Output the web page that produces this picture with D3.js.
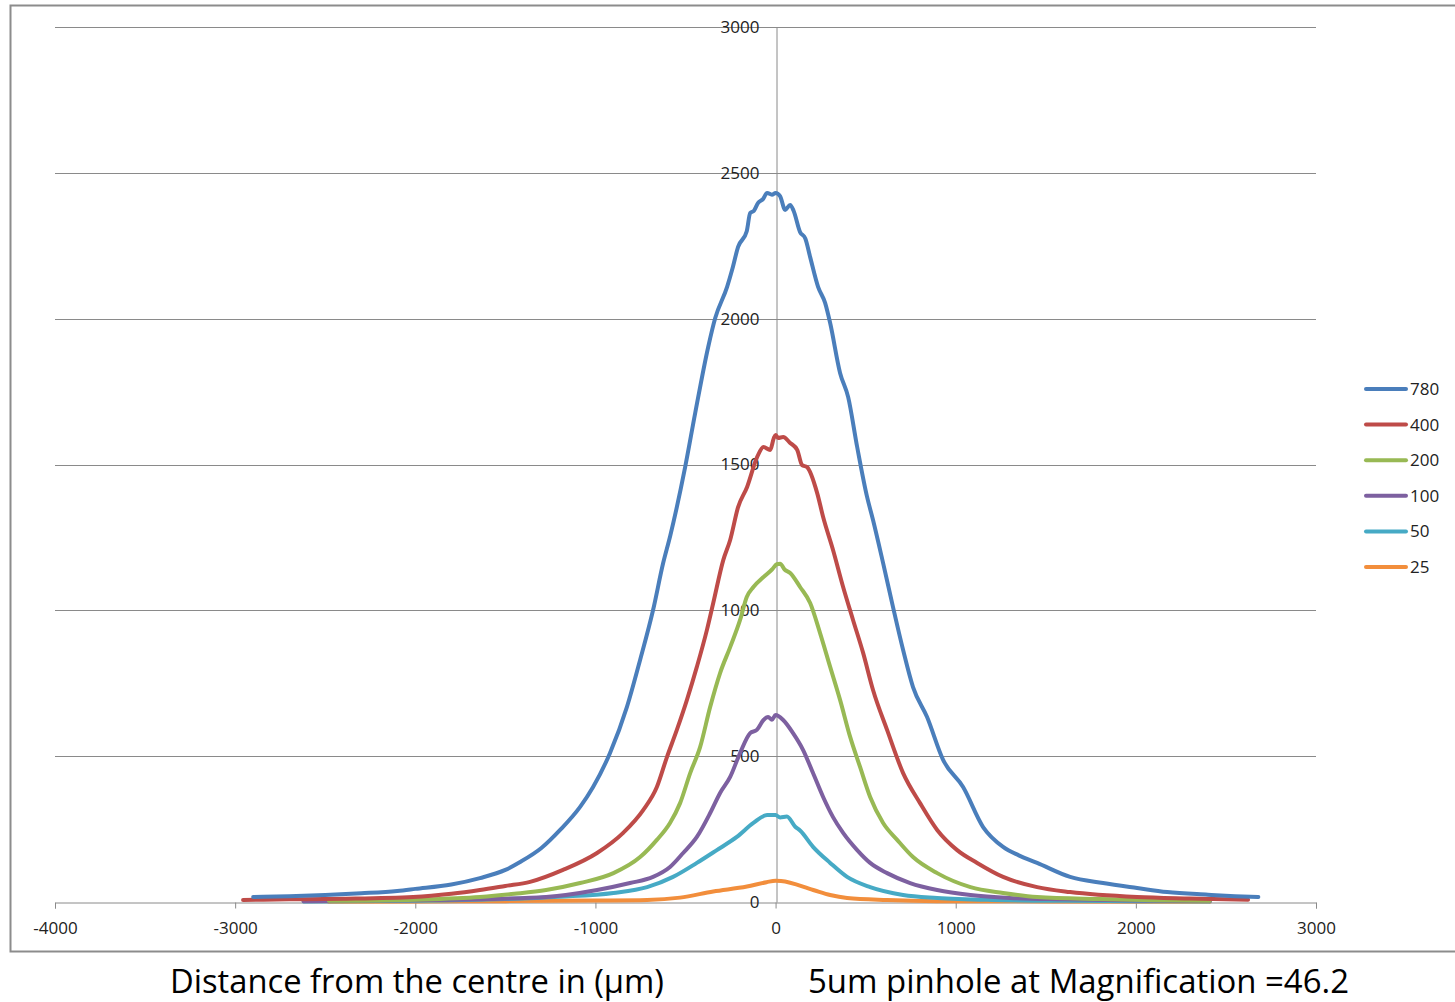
<!DOCTYPE html>
<html>
<head>
<meta charset="utf-8">
<script src="https://cdn.jsdelivr.net/npm/d3@7"></script>
<style>
  body { margin: 0; background: #fff; }
  text { font-family: "Open Sans", "Liberation Sans", sans-serif; }
</style>
</head>
<body>
<div id="chart"></div>
<script>
// series: [distance, intensity]
var s780 = [[-2900,17],[-2700,20],[-2500,24],[-2300,30],[-2100,38],[-2000,45],[-1800,60],[-1641,82],[-1500,110],[-1418,137],[-1300,185],[-1196,247],[-1085,326],[-1013,394],[-919,511],[-825,669],[-752,830],[-680,1001],[-624,1162],[-585,1255],[-502,1491],[-446,1677],[-374,1903],[-335,2002],[-269,2109],[-240,2170],[-208,2246],[-160,2300],[-141,2362],[-120,2370],[-97,2397],[-70,2410],[-47,2431],[-20,2425],[0,2431],[25,2420],[53,2373],[81,2390],[100,2370],[136,2297],[165,2275],[192,2211],[236,2109],[275,2054],[303,1985],[358,1814],[403,1731],[453,1560],[508,1389],[541,1310],[597,1162],[652,1011],[708,864],[763,737],[841,634],[930,487],[1041,394],[1152,257],[1263,189],[1350,160],[1452,134],[1635,86],[1818,65],[2007,48],[2174,34],[2400,25],[2550,20],[2680,17]];
var s400 = [[-2956,7],[-2700,9],[-2400,11],[-2012,17],[-1800,28],[-1641,41],[-1500,55],[-1363,69],[-1180,110],[-991,168],[-846,237],[-735,315],[-659,394],[-603,497],[-548,590],[-492,693],[-437,806],[-381,933],[-346,1025],[-290,1173],[-252,1241],[-208,1354],[-158,1423],[-102,1526],[-67,1560],[-30,1550],[-10,1590],[0,1601],[14,1591],[42,1594],[81,1574],[120,1550],[147,1498],[175,1491],[231,1402],[264,1320],[319,1207],[375,1080],[430,967],[486,854],[541,727],[619,590],[708,442],[802,339],[897,247],[1008,178],[1119,134],[1263,86],[1452,51],[1635,34],[2007,17],[2300,12],[2623,8]];
var s200 = [[-2480,4],[-2000,8],[-1641,17],[-1450,28],[-1274,41],[-1085,65],[-900,99],[-752,154],[-659,213],[-586,271],[-530,339],[-474,442],[-419,531],[-363,669],[-308,785],[-252,874],[-197,967],[-160,1046],[-123,1080],[-67,1114],[-20,1140],[7,1158],[25,1160],[50,1140],[81,1128],[136,1080],[192,1025],[247,922],[303,806],[358,693],[414,566],[469,463],[525,360],[597,271],[675,213],[763,154],[897,99],[1082,51],[1263,31],[1452,17],[1800,10],[2100,6],[2410,4]];
var s100 = [[-2620,3],[-2000,6],[-1600,10],[-1274,17],[-991,41],[-808,65],[-680,86],[-586,120],[-513,168],[-437,223],[-363,305],[-308,374],[-252,429],[-197,511],[-141,579],[-104,590],[-67,624],[-41,634],[-20,625],[0,641],[42,624],[97,579],[153,521],[208,442],[264,360],[319,291],[375,237],[453,178],[525,134],[619,99],[747,65],[897,41],[1082,24],[1300,14],[1600,9],[2000,5],[2410,3]];
var s50 = [[-2620,2],[-2000,4],[-1500,10],[-1200,18],[-900,31],[-713,51],[-569,86],[-437,134],[-326,178],[-215,223],[-123,271],[-47,298],[0,298],[25,290],[63,293],[109,258],[136,245],[208,189],[303,134],[397,86],[525,51],[708,24],[897,14],[1200,7],[1600,4],[2000,3],[2410,2]];
var s25 = [[-2480,1],[-2000,2],[-1500,3],[-1000,5],[-713,7],[-530,15],[-346,36],[-159,53],[-50,68],[0,73],[30,72],[209,41],[303,24],[397,14],[619,7],[900,3],[1500,2],[2410,1]];

var seriesNames = ["780", "400", "200", "100", "50", "25"];
var seriesData = [s780, s400, s200, s100, s50, s25];
var seriesColors = ["#4a7ebb", "#be4b48", "#98b954", "#7d60a0", "#46aac5", "#f28e3c"];

var xTicks = [-4000, -3000, -2000, -1000, 0, 1000, 2000, 3000];
var yTicks = [0, 500, 1000, 1500, 2000, 2500, 3000];

var width = 1455, height = 1002;

var svg = d3.select("#chart").append("svg")
  .attr("width", width)
  .attr("height", height);

// outer chart frame
svg.append("rect")
  .attr("x", 10.5).attr("y", 5.5)
  .attr("width", 1460).attr("height", 946)
  .attr("fill", "none")
  .attr("stroke", "#8c8c8c")
  .attr("stroke-width", 2);

var x = d3.scaleLinear().domain([-4000, 3000]).range([55, 1316]);
var y = d3.scaleLinear().domain([0, 3000]).range([902, 27]);

// plain hyphen minus like the original labels
var plain = function(d) { return String(d); };

// horizontal gridlines
svg.append("g").selectAll("line")
  .data(yTicks.slice(1))
  .enter().append("line")
  .attr("x1", x(-4000)).attr("x2", x(3000))
  .attr("y1", function(d) { return Math.round(y(d)) + 0.5; })
  .attr("y2", function(d) { return Math.round(y(d)) + 0.5; })
  .attr("stroke", "#8a8a8a")
  .attr("stroke-width", 1);

// x axis through zero
var xAxis = svg.append("g")
  .attr("transform", "translate(0," + (Math.round(y(0)) + 0.5) + ")")
  .call(d3.axisBottom(x).tickValues(xTicks).tickSize(6).tickPadding(13)
    .tickFormat(plain));
xAxis.select(".domain").attr("stroke", "#8a8a8a");
xAxis.selectAll(".tick line").attr("stroke", "#8a8a8a");
xAxis.selectAll("text")
  .attr("fill", "#222")
  .style("font-size", "17px");

// y axis through zero
var yAxis = svg.append("g")
  .attr("transform", "translate(" + (Math.round(x(0)) + 0.5) + ",0)")
  .call(d3.axisLeft(y).tickValues(yTicks).tickSize(0).tickPadding(17)
    .tickFormat(plain));
yAxis.select(".domain").attr("stroke", "#8a8a8a");
yAxis.selectAll("text")
  .attr("fill", "#222")
  .style("font-size", "17px");

// the curves, last series drawn first so 780 stays on top
var line = d3.line()
  .curve(d3.curveMonotoneX)
  .x(function(d) { return x(d[0]); })
  .y(function(d) { return y(d[1]); });

for (var i = seriesData.length - 1; i >= 0; i--) {
  svg.append("path")
    .datum(seriesData[i])
    .attr("d", line)
    .attr("fill", "none")
    .attr("stroke", seriesColors[i])
    .attr("stroke-width", 4)
    .attr("stroke-linejoin", "round")
    .attr("stroke-linecap", "round");
}

// legend
var legend = svg.append("g").attr("transform", "translate(1366,389)");
seriesNames.forEach(function(name, i) {
  var g = legend.append("g").attr("transform", "translate(0," + (i * 35.6) + ")");
  g.append("line")
    .attr("x1", 0).attr("x2", 40)
    .attr("stroke", seriesColors[i])
    .attr("stroke-width", 4)
    .attr("stroke-linecap", "round");
  g.append("text")
    .attr("x", 44).attr("dy", "0.35em")
    .attr("fill", "#222")
    .style("font-size", "17px")
    .text(name);
});

// captions under the frame
svg.append("text")
  .attr("x", 170).attr("y", 993)
  .attr("textLength", 494).attr("lengthAdjust", "spacingAndGlyphs")
  .style("font-size", "32px")
  .attr("fill", "#000")
  .text("Distance from the centre in (µm)");

svg.append("text")
  .attr("x", 808).attr("y", 993)
  .attr("textLength", 541).attr("lengthAdjust", "spacingAndGlyphs")
  .style("font-size", "32px")
  .attr("fill", "#000")
  .text("5um pinhole at Magnification =46.2");
</script>
</body>
</html>
